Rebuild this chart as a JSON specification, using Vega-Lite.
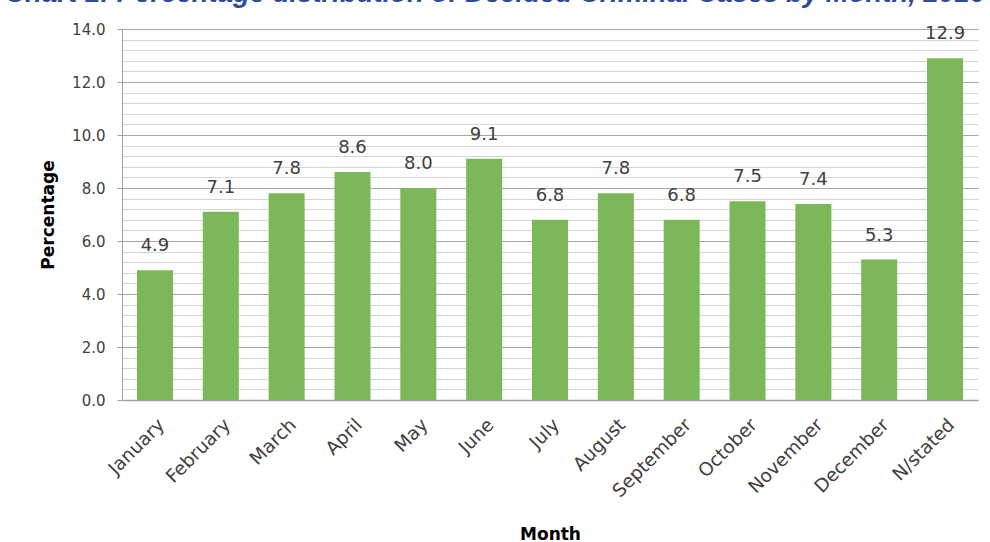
{
  "$schema": "https://vega.github.io/schema/vega-lite/v6.json",
  "width": 856,
  "height": 371,
  "autosize": {"type": "none"},
  "padding": {"left": 122, "top": 29, "right": 12, "bottom": 142},
  "background": "white",
  "title": {
    "text": "Chart 1: Percentage distribution of Decided Criminal Cases by Month, 2016",
    "font": "Liberation Sans",
    "fontSize": 27.5,
    "fontStyle": "italic",
    "fontWeight": "bold",
    "color": "#2b4b9b",
    "anchor": "middle",
    "frame": "group",
    "dx": -55,
    "offset": 15
  },
  "config": {
    "view": {"stroke": null},
    "font": "DejaVu Sans"
  },
  "data": {
    "values": [
      {"month": "January", "pct": 4.9},
      {"month": "February", "pct": 7.1},
      {"month": "March", "pct": 7.8},
      {"month": "April", "pct": 8.6},
      {"month": "May", "pct": 8.0},
      {"month": "June", "pct": 9.1},
      {"month": "July", "pct": 6.8},
      {"month": "August", "pct": 7.8},
      {"month": "September", "pct": 6.8},
      {"month": "October", "pct": 7.5},
      {"month": "November", "pct": 7.4},
      {"month": "December", "pct": 5.3},
      {"month": "N/stated", "pct": 12.9}
    ]
  },
  "encoding": {
    "x": {
      "field": "month",
      "type": "nominal",
      "sort": null,
      "scale": {"paddingInner": 0.453, "paddingOuter": 0.227},
      "axis": {
        "title": "Month",
        "titleFont": "DejaVu Sans",
        "titleFontSize": 17,
        "titleFontWeight": "bold",
        "titleColor": "#000000",
        "titlePadding": 26,
        "labelAngle": -45,
        "labelFontSize": 18.5,
        "labelColor": "#404040",
        "labelPadding": 15,
        "ticks": false,
        "domainColor": "#a0a0a0",
        "domainWidth": 1.5
      }
    }
  },
  "layer": [
    {
      "mark": {"type": "bar", "color": "#7cb75a"},
      "encoding": {
        "y": {
          "field": "pct",
          "type": "quantitative",
          "scale": {"domain": [0, 14], "nice": false},
          "axis": {
            "orient": "left",
            "values": [0, 2, 4, 6, 8, 10, 12, 14],
            "format": ".1f",
            "title": "Percentage",
            "titleFontSize": 17,
            "titleFontWeight": "bold",
            "titleColor": "#000000",
            "titlePadding": 14,
            "labelFontSize": 15,
            "labelColor": "#404040",
            "labelPadding": 12,
            "tickSize": 5,
            "tickColor": "#a0a0a0",
            "domainColor": "#a0a0a0",
            "gridColor": "#a6a6a6",
            "grid": true
          }
        }
      }
    },
    {
      "mark": {"type": "text", "baseline": "bottom", "dy": -15, "fontSize": 18, "color": "#404040"},
      "encoding": {
        "y": {
          "field": "pct",
          "type": "quantitative",
          "axis": {
            "orient": "left",
            "values": [0.4, 0.8, 1.2, 1.6, 2.4, 2.8, 3.2, 3.6, 4.4, 4.8, 5.2, 5.6, 6.4, 6.8, 7.2, 7.6, 8.4, 8.8, 9.2, 9.6, 10.4, 10.8, 11.2, 11.6, 12.4, 12.8, 13.2, 13.6],
            "labels": false,
            "ticks": false,
            "domain": false,
            "title": null,
            "grid": true,
            "gridColor": "#d4d4d4"
          }
        },
        "text": {"field": "pct", "type": "quantitative", "format": ".1f"}
      }
    }
  ],
  "resolve": {"axis": {"y": "independent"}}
}
